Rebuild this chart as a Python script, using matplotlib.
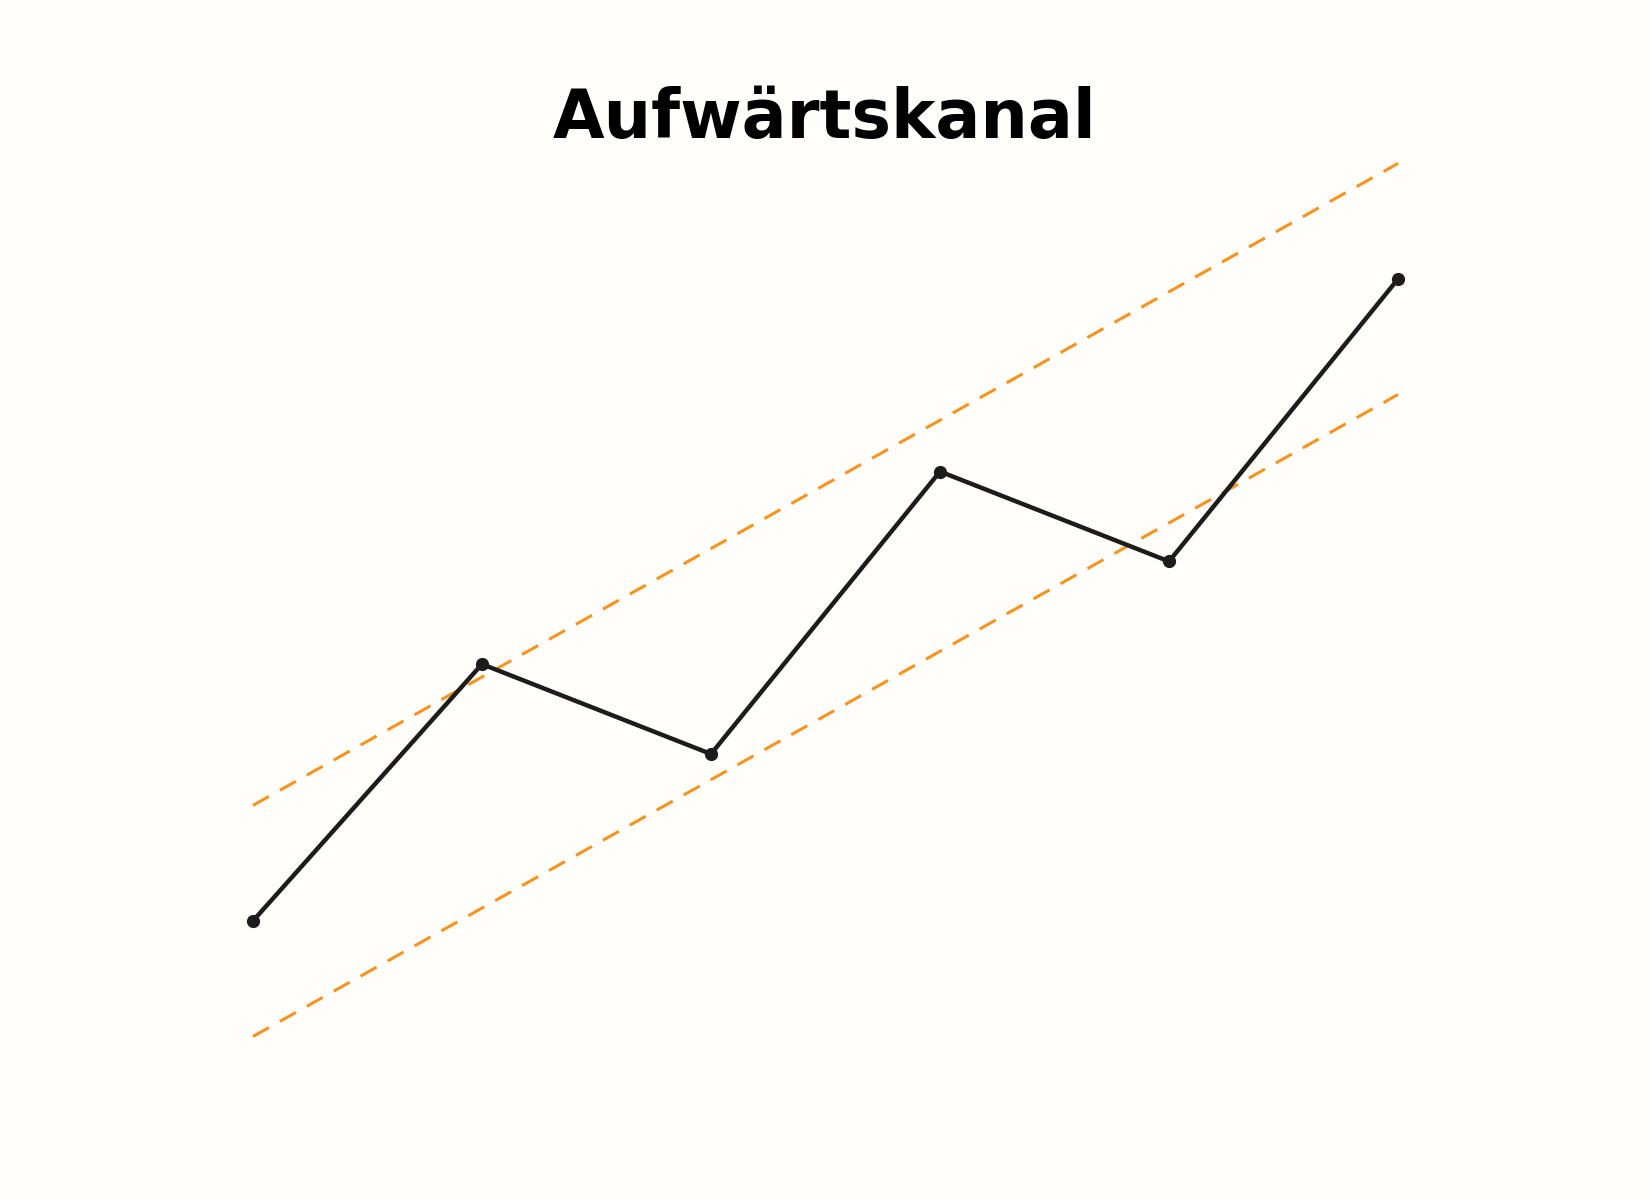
import matplotlib
matplotlib.use("Agg")
import matplotlib.pyplot as plt

# price path and channel bounds
steps = [0, 1, 2, 3, 4, 5]
price = [0, 4, 2.6, 7, 5.6, 10]
upper = [1.8, 11.8]
lower = [-1.8, 8.2]
ends = [0, 5]

bg = '#FFFEFA'
fig = plt.figure(figsize=(16.5, 12), dpi=100, facecolor=bg)
ax = fig.add_axes([0.1186, 0.0988, 0.7634, 0.8025])
ax.set_facecolor(bg)

ax.plot(ends, upper, color='#F8931F', lw=2.2, dashes=(6, 4.1))
ax.plot(ends, lower, color='#F8931F', lw=2.2, dashes=(6, 4.1))
ax.plot(steps, price, color='#1c1c1c', lw=3.2, marker='o', markersize=8.5)

ax.set_xlim(-0.25, 5.25)
ax.set_ylim(-2.5, 12.5)
ax.axis('off')

fig.text(0.5, 0.885, 'Aufwärtskanal', ha='center', va='baseline',
         fontsize=48, fontweight='bold', color='black')

fig.savefig('out.png', dpi=100, facecolor=bg)
